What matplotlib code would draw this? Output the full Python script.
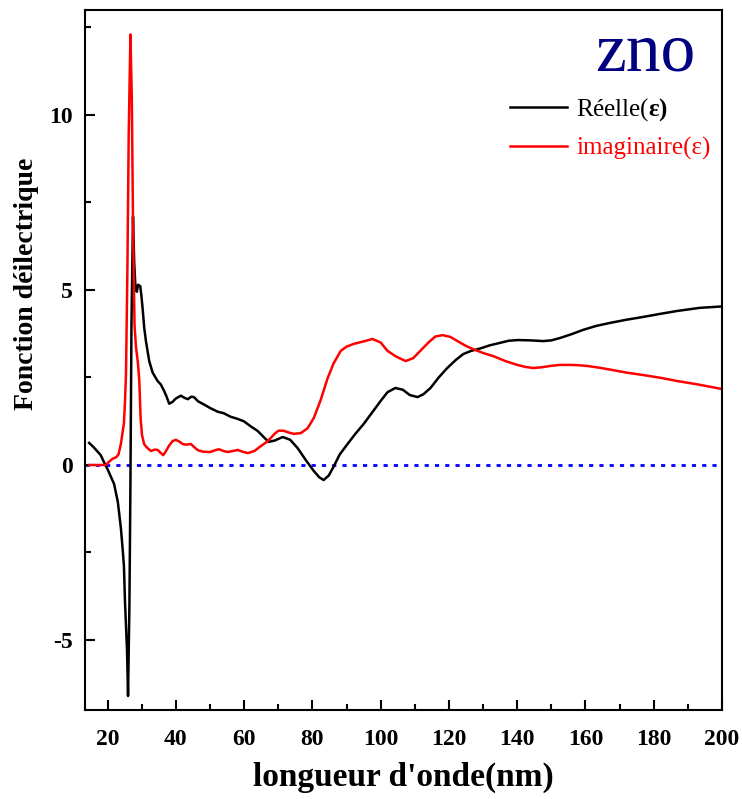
import numpy as np
import matplotlib
matplotlib.use("Agg")
from matplotlib import pyplot as plt
from matplotlib.ticker import MultipleLocator

plt.rcParams['font.family'] = ['Liberation Serif', 'DejaVu Serif']
plt.rcParams['mathtext.fontset'] = 'custom'
plt.rcParams['mathtext.rm'] = 'Liberation Serif'
plt.rcParams['mathtext.bf'] = 'Liberation Serif:bold'
plt.rcParams['axes.unicode_minus'] = False

# real part of the dielectric function
x_real = [14.6, 16, 18, 19.2, 20, 21.9, 23.0, 23.9, 24.5, 24.8, 25.1, 25.4, 25.7, 26.0,
          26.4, 26.7, 27.0, 27.45, 27.8, 28.2, 28.6, 28.9, 29.57, 29.9, 30.25, 30.74, 31.24,
          32.2, 33.2, 34.65, 35.6, 36.6, 37.3, 38.05, 39, 40, 41.5, 42.5, 43.5, 44.5, 45.3, 46.5,
          48.2, 50, 52.3, 54, 56, 58, 59.9, 62, 64, 65.5, 67.2, 69, 71.3, 73.5, 75.7,
          78, 80.4, 82, 83.3, 84.8, 86.2, 88, 90.3, 92.5, 95, 97.5, 100, 102, 104.3,
          106.5, 108.5, 110.8, 112.5, 114.6, 117, 119.5, 122, 124.2, 126.5, 129.2, 132,
          135, 137.5, 140.3, 144, 147.6, 150, 152.6, 156, 159.3, 163, 167.2, 172, 176.9,
          182, 186.8, 193.5, 200]
y_real = [0.63, 0.50, 0.28, 0.03, -0.12, -0.54, -1.05, -1.8, -2.5, -2.9, -3.9, -4.6, -5.3, -6.6,
          -4.0, -0.5, 4.0, 7.1, 5.8, 5.0, 4.95, 5.15, 5.11, 4.85, 4.49, 3.92, 3.54,
          2.97, 2.64, 2.4, 2.3, 2.11, 1.95, 1.75, 1.80, 1.90, 1.98, 1.92, 1.88, 1.95, 1.94, 1.82,
          1.73, 1.63, 1.52, 1.48, 1.38, 1.32, 1.25, 1.1, 0.97, 0.82, 0.66, 0.70, 0.80, 0.72, 0.48,
          0.15, -0.17, -0.35, -0.43, -0.30, -0.05, 0.30, 0.60, 0.88, 1.17, 1.5, 1.83, 2.08, 2.2,
          2.15, 2.0, 1.94, 2.02, 2.2, 2.5, 2.77, 3.0, 3.17, 3.26, 3.33, 3.42,
          3.49, 3.55, 3.57, 3.56, 3.54, 3.56, 3.63, 3.74, 3.86, 3.97, 4.06, 4.15, 4.23,
          4.32, 4.40, 4.49, 4.53]

# imaginary part
x_imag = [14.6, 16, 18, 19.5, 20.5, 21.5, 22.5, 23.2, 23.9, 24.5, 24.8, 25.1, 25.4, 25.8,
          26.2, 26.7, 27.1, 27.5, 27.9, 28.3, 28.9, 29.3, 29.7, 30.1, 30.7, 31.5, 32.7,
          33.8, 34.7, 35.5, 36.3, 37, 38, 39, 40, 41, 42, 43, 44.4, 45.5, 46.5, 48, 50,
          51.5, 52.6, 54, 55.2, 56.7, 58.1, 59.5, 61.1, 63, 64.9, 66.5, 67.8, 69, 70.1,
          71.5, 73, 74.5, 76.6, 78.6, 80.4, 82.4, 84.5, 86.2, 88.3, 90, 92.1, 95, 97.6,
          100, 102, 104.5, 107.3, 109.5, 111.6, 114, 116, 118.1, 120.4, 122.5, 125, 127.1,
          130, 133, 136.5, 140, 142.5, 144.7, 147, 149.7, 152.5, 155.5, 158, 160.5, 164,
          168.1, 172, 176.9, 182, 186.8, 193, 200]
y_imag = [0, 0, 0, 0.0, 0.1, 0.18, 0.22, 0.3, 0.6, 1.0, 1.2, 1.8, 2.6, 5.5,
          9.5, 12.3, 10.5, 6.5, 4.0, 3.4, 2.9, 2.4, 1.3, 0.85, 0.6, 0.5, 0.4,
          0.44, 0.43, 0.35, 0.28, 0.38, 0.55, 0.68, 0.72, 0.67, 0.6, 0.58, 0.6, 0.5, 0.42, 0.38, 0.37,
          0.42, 0.45, 0.4, 0.37, 0.4, 0.43, 0.38, 0.34, 0.4, 0.54, 0.65, 0.77, 0.9, 0.98,
          0.98, 0.93, 0.89, 0.91, 1.05, 1.34, 1.85, 2.49, 2.9, 3.26, 3.38, 3.46, 3.53, 3.6,
          3.5, 3.26, 3.1, 2.97, 3.05, 3.26, 3.5, 3.67, 3.71, 3.66, 3.54, 3.4, 3.31,
          3.2, 3.11, 2.97, 2.86, 2.8, 2.77, 2.79, 2.83, 2.86, 2.86, 2.85, 2.83, 2.78,
          2.71, 2.64, 2.57, 2.49, 2.4, 2.3, 2.17]

xticks = [20, 40, 60, 80, 100, 120, 140, 160, 180, 200]
yticks = [-5, 0, 5, 10]

fig = plt.figure(figsize=(7.42, 7.99), dpi=100)
ax = fig.add_axes([0.1146, 0.1114, 0.8585, 0.8761])

ax.axhline(0, color='#0000ff', lw=2, linestyle=(0, (1.5, 2.2)), zorder=1)
ax.plot(x_real, y_real, color='black', lw=1.8, label='Réelle(' + r'$\mathbf{\varepsilon)}$')
ax.plot(x_imag, y_imag, color='#ff0000', lw=1.8, label='imaginaire(ε)')

ax.set_xlim(13.4, 200)
ax.set_ylim(-7, 13)
ax.set_xticks(xticks)
ax.set_yticks(yticks)
ax.xaxis.set_minor_locator(MultipleLocator(10))
ax.yaxis.set_minor_locator(MultipleLocator(2.5))
ax.tick_params(which='both', direction='in', top=False, right=False, width=1.5)
ax.tick_params(which='major', length=7)
ax.tick_params(which='minor', length=4)
ax.tick_params(axis='x', which='major', pad=14, labelsize=17)
ax.tick_params(axis='y', which='major', pad=9, labelsize=17)
for lab in ax.get_xticklabels() + ax.get_yticklabels():
    lab.set_fontweight('bold')
for s in ax.spines.values():
    s.set_linewidth(1.5)

ax.set_xlabel("longueur d'onde(nm)", fontsize=24, fontweight='bold', labelpad=8)
ax.set_ylabel("Fonction déilectrique", fontsize=20, fontweight='bold')
ax.yaxis.set_label_coords(-0.072, 0.609)

ax.text(0.879, 0.913, 'zno', transform=ax.transAxes, fontsize=50, color='#000080',
        ha='center', va='baseline')

leg = ax.legend(loc='upper left', bbox_to_anchor=(0.667, 0.877), frameon=False,
                fontsize=18, handlelength=2.3, handletextpad=0.36, borderpad=0,
                borderaxespad=0, labelspacing=0.55)
for t, c in zip(leg.get_texts(), ['black', '#ff0000']):
    t.set_color(c)

plt.savefig('out.png', dpi=100)
